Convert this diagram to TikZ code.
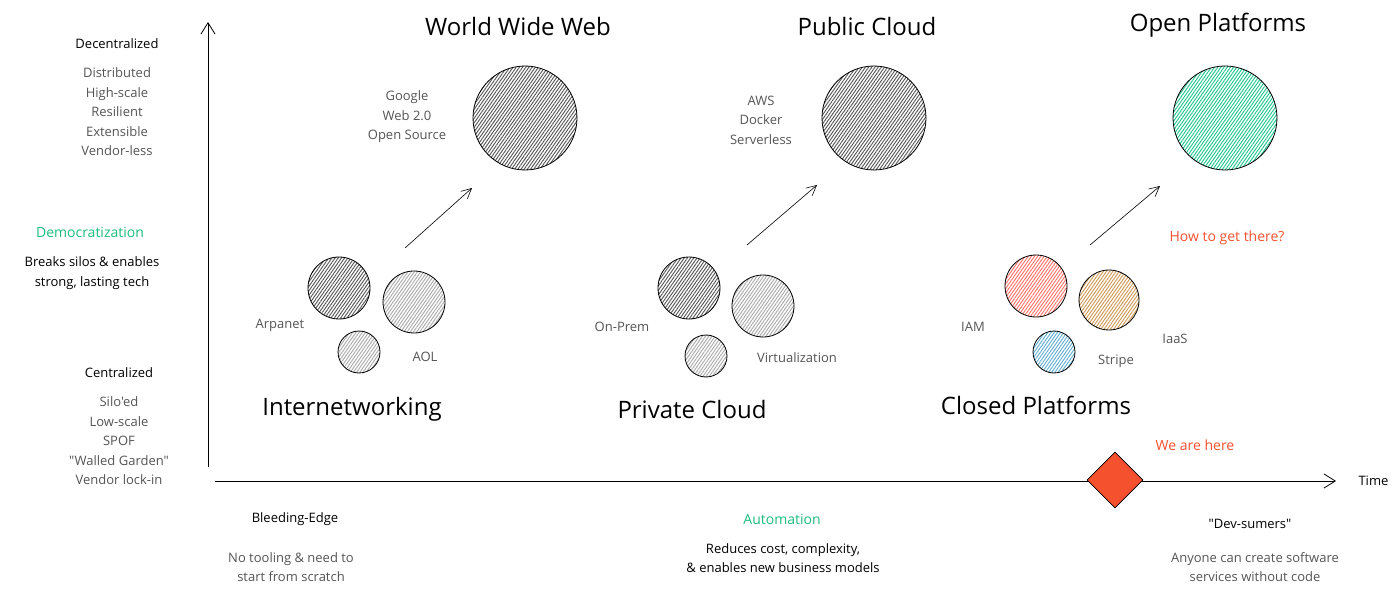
\documentclass[tikz,border=0pt]{standalone}
\usepackage{fontspec}
\setmainfont{Open Sans}[Ligatures=TeXOff]
\usetikzlibrary{arrows.meta, positioning, shapes.geometric, patterns.meta}
\definecolor{inkgray}{HTML}{555555}
\definecolor{goodgreen}{HTML}{1CBD7E}
\definecolor{alertred}{HTML}{F5512F}
\definecolor{darkhatch}{HTML}{585858}
\definecolor{lighthatch}{HTML}{ABABAB}
\definecolor{iamred}{HTML}{FF7468}
\definecolor{iaastan}{HTML}{CF9A55}
\definecolor{stripeblue}{HTML}{62AFD2}
\definecolor{openteal}{HTML}{22C78E}
\tikzset{
  eratitle/.style={
    font=\fontsize{24}{28}\selectfont, text=black
  },
  axishead/.style={
    font=\fontsize{13}{16}\selectfont, text=black, align=center
  },
  notetext/.style={
    font=\fontsize{13}{19.5}\selectfont, text=inkgray, align=center
  },
  blacknote/.style={
    font=\fontsize{13}{19.5}\selectfont, text=black, align=center
  },
  greenhead/.style={
    font=\fontsize{14}{17}\selectfont, text=goodgreen
  },
  redhead/.style={
    font=\fontsize{14}{17}\selectfont, text=alertred
  },
  bubble/.style={
    circle, draw=black, thick, inner sep=0pt, minimum size=#1
  },
  hatch/.style={
    pattern={Lines[angle=55, distance=2.6pt, line width=0.95pt]},
    pattern color=#1
  },
  axisarrow/.style={-{Straight Barb[length=4mm, width=5mm]}, thick},
  growarrow/.style={-{Straight Barb[length=3.5mm, width=3.5mm]}, semithick},
}

\begin{document}
\begin{tikzpicture}[x=1pt, y=-1pt]
  \useasboundingbox (0,0) rectangle (1400,596);
  \fill[white] (0,0) rectangle (1400,596);

  % ── Axes ──
  \coordinate (vbase) at (208,467);
  \coordinate (vtop) at (208,22);
  \coordinate (hbase) at (215,481);
  \coordinate (hend) at (1336,481);
  \draw[axisarrow] (vbase) -- (vtop);
  \draw[axisarrow] (hbase) -- (hend);
  \node[axishead, anchor=west] (timelbl) at (1355,481) {Time};

  \node[diamond, draw=black, thick, fill=alertred, inner sep=0pt,
    minimum size=56pt] (here) at (1115,480) {};
  \node[redhead] (herelbl) at (1195,445) {We are here};

  % ── Vertical axis notes ──
  \node[axishead] (decent) at (117,44) {Decentralized};
  \node[notetext] (decentlist) at (117,112)
    {Distributed\\High-scale\\Resilient\\Extensible\\Vendor-less};

  \node[greenhead] (democ) at (90,232) {Democratization};
  \node[blacknote] (democtxt) at (92,273)
    {Breaks silos \& enables\\strong, lasting tech};

  \node[axishead] (cent) at (119,373) {Centralized};
  \node[notetext] (centlist) at (119,441)
    {Silo'ed\\Low-scale\\SPOF\\"Walled Garden"\\Vendor lock-in};

  % ── Horizontal axis notes ──
  \node[axishead] (bleed) at (295,519) {Bleeding-Edge};
  \node[notetext] (bleedtxt) at (291,567)
    {No tooling \& need to\\start from scratch};

  \node[greenhead] (auto) at (782,519) {Automation};
  \node[blacknote] (autotxt) at (783,558)
    {Reduces cost, complexity,\\\& enables new business models};

  \node[axishead] (devs) at (1250,524) {"Dev-sumers"};
  \node[notetext] (devstxt) at (1255,567)
    {Anyone can create software\\services without code};

  % ── Internetworking → World Wide Web ──
  \node[eratitle] (inet) at (352,409) {Internetworking};
  \node[bubble=62pt, hatch=darkhatch] (arpa) at (339,288) {};
  \node[bubble=62pt, hatch=lighthatch] (aol) at (414,302) {};
  \node[bubble=42pt, hatch=lighthatch] (inetsmall) at (359,352) {};
  \node[notetext] (arpalbl) at (280,325) {Arpanet};
  \node[notetext] (aollbl) at (425,357) {AOL};

  \node[eratitle] (www) at (518,27) {World Wide Web};
  \node[bubble=104pt, hatch=darkhatch] (wwwball) at (525,118) {};
  \node[notetext] (wwwlist) at (407,117) {Google\\Web 2.0\\Open Source};

  \coordinate (inettail) at (405,248);
  \coordinate (inettip) at (472,188);
  \draw[growarrow] (inettail) -- (inettip);

  % ── Private Cloud → Public Cloud ──
  \node[eratitle] (priv) at (692,409) {Private Cloud};
  \node[bubble=62pt, hatch=darkhatch] (onprem) at (689,288) {};
  \node[bubble=62pt, hatch=lighthatch] (virt) at (763,306) {};
  \node[bubble=42pt, hatch=lighthatch] (privsmall) at (706,356) {};
  \node[notetext] (onpremlbl) at (622,327) {On-Prem};
  \node[notetext] (virtlbl) at (797,358) {Virtualization};

  \node[eratitle] (pub) at (867,27) {Public Cloud};
  \node[bubble=104pt, hatch=darkhatch] (pubball) at (874,118) {};
  \node[notetext] (publist) at (761,120) {AWS\\Docker\\Serverless};

  \coordinate (privtail) at (747,245);
  \coordinate (privtip) at (817,185);
  \draw[growarrow] (privtail) -- (privtip);

  % ── Closed Platforms → Open Platforms ──
  \node[eratitle] (closed) at (1036,405) {Closed Platforms};
  \node[bubble=62pt, hatch=iamred] (iam) at (1036,286) {};
  \node[bubble=60pt, hatch=iaastan] (iaas) at (1109,300) {};
  \node[bubble=42pt, hatch=stripeblue] (stripe) at (1054,352) {};
  \node[notetext] (iamlbl) at (973,327) {IAM};
  \node[notetext] (stripelbl) at (1116,361) {Stripe};
  \node[notetext] (iaaslbl) at (1175,339) {IaaS};

  \node[eratitle] (open) at (1218,25) {Open Platforms};
  \node[bubble=104pt, hatch=openteal] (openball) at (1225,118) {};
  \node[redhead] (howlbl) at (1227,238) {How to get there?};

  \coordinate (closedtail) at (1090,245);
  \coordinate (closedtip) at (1160,186);
  \draw[growarrow] (closedtail) -- (closedtip);
\end{tikzpicture}
\end{document}
